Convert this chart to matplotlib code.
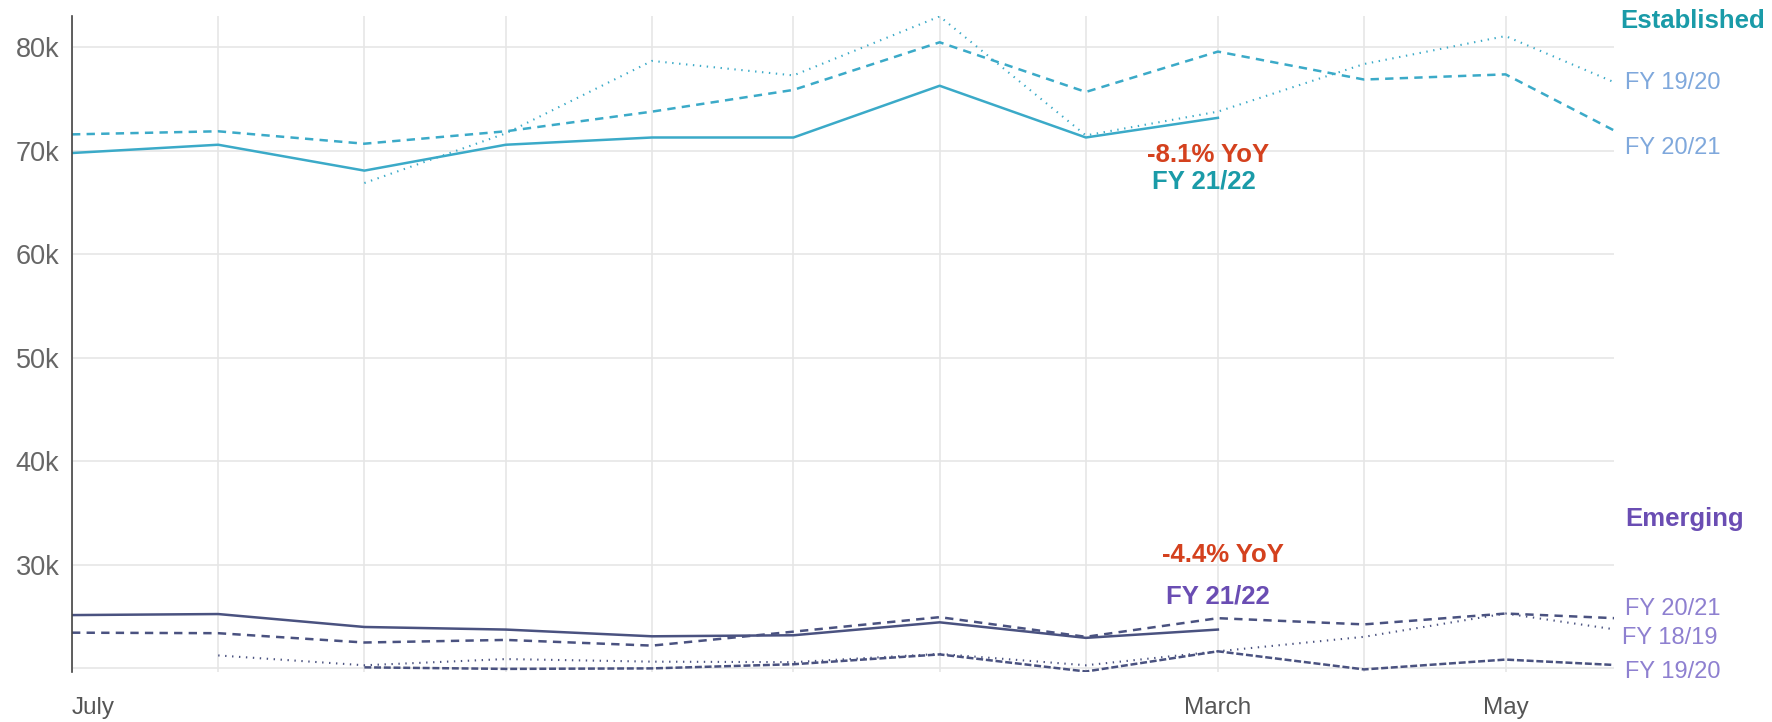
import numpy as np
import pandas as pd
import matplotlib
matplotlib.use("Agg")
import matplotlib.pyplot as plt

nan = np.nan
plt.rcParams['font.family'] = ['Liberation Sans', 'DejaVu Sans']
plt.rcParams['lines.scale_dashes'] = False

# ---- data (values in thousands) ----
months = pd.date_range('2021-07-01', periods=12, freq='MS')
month_labels = ['July', '', '', '', '', '', '', '', 'March', '', 'May', '']

est_fy2122 = [69.8, 70.6, 68.1, 70.6, 71.3, 71.3, 76.3, 71.3, 73.2, nan, nan, nan]
est_fy2021 = [71.6, 71.9, 70.7, 71.9, 73.8, 75.9, 80.5, 75.7, 79.6, 76.9, 77.4, 70.1]
est_fy1920 = [nan, nan, 66.9, 71.7, 78.7, 77.3, 83.0, 71.5, 73.8, 78.4, 81.1, 75.1]

em_fy2122 = [25.15, 25.25, 24.0, 23.75, 23.1, 23.2, 24.45, 22.95, 23.75, nan, nan, nan]
em_fy2021 = [23.45, 23.4, 22.5, 22.75, 22.2, 23.55, 24.95, 23.05, 24.85, 24.25, 25.3, 24.7]
em_fy1819 = [nan, 21.25, 20.3, 20.9, 20.65, 20.6, 21.4, 20.3, 21.65, 23.05, 25.3, 23.25]
em_fy1920 = [nan, nan, 20.1, 19.95, 20.0, 20.4, 21.35, 19.7, 21.65, 19.9, 20.85, 20.15]

yticks = [20, 30, 40, 50, 60, 70, 80]
ytick_labels = ['', '30k', '40k', '50k', '60k', '70k', '80k']

# ---- figure ----
W, H = 1772, 722
fig = plt.figure(figsize=(W / 100, H / 100), dpi=100)
left, right, top, bottom = 72, 1614, 16, 672
ax = fig.add_axes([left / W, 1 - bottom / H, (right - left) / W, (bottom - top) / H])

est_col = '#3BAAC8'
em_col = '#4A5280'
lw = 1.8

ax.plot(months, est_fy2122, color=est_col, lw=lw)
ax.plot(months, est_fy2021, color=est_col, lw=lw, dashes=(6, 4.5))
ax.plot(months, est_fy1920, color=est_col, lw=1.5, dashes=(1, 4))

ax.plot(months, em_fy2122, color=em_col, lw=lw)
ax.plot(months, em_fy2021, color=em_col, lw=lw, dashes=(6, 4.5))
ax.plot(months, em_fy1819, color=em_col, lw=1.5, dashes=(1, 4))
ax.plot(months, em_fy1920, color=em_col, lw=lw, dashes=(5, 2))

ax.set_xlim(pd.Timestamp('2021-07-01'), pd.Timestamp('2022-05-24'))
ax.set_ylim(19.65, 83.04)

ax.set_yticks(yticks)
ax.set_yticklabels(ytick_labels)
ax.set_xticks(months[:11])
ax.set_xticklabels(month_labels[:11])
ax.tick_params(axis='y', length=0, pad=9, labelsize=19.5, labelcolor='#666666')
ax.tick_params(axis='x', length=0, pad=18, labelsize=17.5, labelcolor='#555555')
ax.get_xticklabels()[0].set_ha('left')

ax.grid(True, color='#E6E6E6', lw=1.2)
ax.set_axisbelow(True)
for s in ['top', 'right', 'bottom']:
    ax.spines[s].set_visible(False)
ax.spines['left'].set_color('#444444')
ax.spines['left'].set_linewidth(1.2)

# ---- annotations ----
red = '#D4411E'
teal = '#1A9BA8'
purple = '#6A4DB3'
est_lab = '#7FA8DC'
em_lab = '#8E80D0'

ax.text(pd.Timestamp('2022-02-27'), 69.6, '-8.1% YoY', color=red, fontsize=18.5,
        fontweight='bold', ha='center', va='center')
ax.text(pd.Timestamp('2022-02-26'), 67.0, 'FY 21/22', color=teal, fontsize=18.5,
        fontweight='bold', ha='center', va='center')
ax.text(pd.Timestamp('2022-03-02'), 30.97, '-4.4% YoY', color=red, fontsize=18.5,
        fontweight='bold', ha='center', va='center')
ax.text(pd.Timestamp('2022-03-01'), 26.9, 'FY 21/22', color=purple, fontsize=18.5,
        fontweight='bold', ha='center', va='center')

def ftext(x, y, s, **kw):
    fig.text(x / W, 1 - y / H, s, va='center', ha='left', **kw)

ftext(1620, 21, 'Established', color=teal, fontsize=18.5, fontweight='bold')
ftext(1625, 83, 'FY 19/20', color=est_lab, fontsize=17)
ftext(1625, 148, 'FY 20/21', color=est_lab, fontsize=17)
ftext(1625, 519, 'Emerging', color=purple, fontsize=18.5, fontweight='bold')
ftext(1625, 609, 'FY 20/21', color=em_lab, fontsize=17)
ftext(1622, 638, 'FY 18/19', color=em_lab, fontsize=17)
ftext(1625, 672, 'FY 19/20', color=em_lab, fontsize=17)

fig.savefig('out.png', dpi=100)
